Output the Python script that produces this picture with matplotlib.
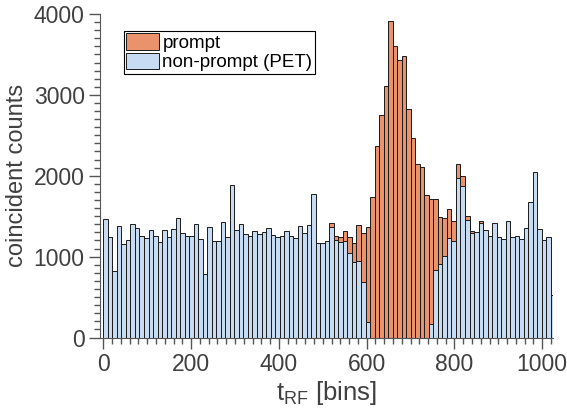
import matplotlib
matplotlib.use('Agg')
import matplotlib.pyplot as plt
import numpy as np
from matplotlib.ticker import MultipleLocator

# histogram contents, 100 bins of width ~10.3 starting at 0
bin_width = 10.3

non_prompt = [1465, 1246, 820, 1382, 1156, 1201, 1405, 1350, 1251, 1226,
              1333, 1253, 1175, 1325, 1248, 1337, 1481, 1288, 1258, 1251,
              1399, 1219, 789, 1362, 1199, 1199, 1424, 1246, 1881, 1325,
              1399, 1279, 1251, 1316, 1275, 1300, 1350, 1263, 1239, 1251,
              1320, 1251, 1226, 1382, 1296, 1395, 1770, 1172, 1170, 1189,
              1370, 1210, 1177, 1193, 1042, 933, 950, 692, 196, 0,
              0, 0, 0, 0, 0, 0, 0, 0, 0, 0,
              0, 0, 165, 830, 905, 1009, 1226, 1193, 1972, 1873,
              1452, 1288, 1308, 1419, 1329, 1258, 1419, 1246, 1214, 1444,
              1239, 1255, 1214, 1354, 1679, 2050, 1337, 1205, 1239, 522]

prompt = [0] * 50 + [
    1411, 1257, 1239, 1323, 1239, 1172, 1389, 1292, 1362, 1743,
    2371, 2746, 3109, 3908, 3599, 3426, 3475, 2824, 2466, 2148,
    2104, 1768, 1712, 1718, 1494, 1473, 1592, 1440, 2141, 2000,
    1506, 1320, 1310, 1440] + [0] * 16

plt.rcParams['font.family'] = ['Liberation Sans', 'DejaVu Sans']
plt.rcParams['mathtext.fontset'] = 'custom'
plt.rcParams['mathtext.rm'] = 'Liberation Sans'
plt.rcParams['mathtext.it'] = 'Liberation Sans'

text_col = '#404040'
axis_col = '#555555'

left_edges = np.arange(len(non_prompt)) * bin_width

fig = plt.figure(figsize=(5.67, 4.19), dpi=100)
ax = fig.add_axes([100 / 567, 1 - 337.5 / 419, 453 / 567, 323.5 / 419])

ax.bar(left_edges, prompt, width=bin_width, align='edge', color='#E9926B',
       edgecolor='#1a1a1a', linewidth=0.7, label='prompt')
ax.bar(left_edges, non_prompt, width=bin_width, align='edge', color='#C7DBF2',
       edgecolor='#1a1a1a', linewidth=0.7, label='non-prompt (PET)')

ax.set_xlim(-7.5, 1024.5)
ax.set_ylim(0, 4000)
ax.xaxis.set_major_locator(MultipleLocator(200))
ax.xaxis.set_minor_locator(MultipleLocator(20))
ax.yaxis.set_major_locator(MultipleLocator(1000))
ax.yaxis.set_minor_locator(MultipleLocator(100))

for s in ['top', 'right']:
    ax.spines[s].set_visible(False)
for s in ['left', 'bottom']:
    ax.spines[s].set_color(axis_col)

ax.tick_params(which='major', direction='out', length=8, width=1,
               color=axis_col, labelcolor=text_col, labelsize=16.5, pad=3)
ax.tick_params(which='minor', direction='out', length=4, width=1, color=axis_col)

ax.set_ylabel('coincident counts', fontsize=17, color=text_col, labelpad=4)
ax.set_xlabel(r'$\mathrm{t_{RF}}$ [bins]', fontsize=18.5, color=text_col, labelpad=2)

leg = ax.legend(loc='upper left', bbox_to_anchor=(0.052, 0.947), fontsize=13.5,
                frameon=True, fancybox=False, edgecolor='black', framealpha=1,
                borderaxespad=0, borderpad=0.12, handlelength=1.75,
                handleheight=0.95, handletextpad=0.2, labelspacing=0.05)
leg.get_frame().set_linewidth(0.8)

fig.savefig('out.png', dpi=100)
